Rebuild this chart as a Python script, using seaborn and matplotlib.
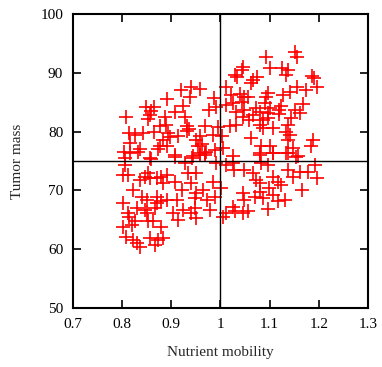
import matplotlib
matplotlib.use("Agg")
import matplotlib.pyplot as plt
import seaborn as sns
import pandas as pd

# Nutrient mobility (x) and tumor mass (y) per sample
mobility = [
    1.093, 1.151, 1.155, 1.101, 1.126, 1.137, 1.134, 1.045, 1.043, 1.029,
    1.034, 1.066, 1.074, 1.063, 1.186, 1.191, 1.197, 1.011, 1.021, 1.039,
    1.047, 1.043, 1.097, 1.093, 1.127, 1.141, 1.155, 1.174, 1.168, 1.151,
    1.124, 1.120, 1.100, 1.097, 1.097, 1.073, 1.066, 1.049, 1.032, 1.026,
    1.012, 0.992, 0.976, 0.986, 0.941, 0.959, 0.919, 0.938, 0.892, 0.923,
    0.907, 0.865, 0.849, 0.857, 0.853, 0.808, 0.887, 0.928, 0.931, 0.936,
    0.914, 0.894, 0.889, 0.877, 0.865, 0.842, 0.826, 0.815, 0.816, 0.836,
    0.804, 0.877, 0.884, 0.891, 0.874, 0.859, 0.907, 0.950, 0.959, 0.968,
    0.955, 0.958, 0.968, 0.985, 0.995, 1.004, 0.989, 1.005, 1.019, 1.032,
    1.046, 1.059, 1.080, 1.086, 1.107, 1.063, 1.083, 1.100, 1.107, 1.080,
    1.134, 1.141, 1.137, 1.144, 1.147, 1.134, 1.157, 1.188, 1.184, 1.026,
    0.945, 0.858, 1.090, 1.056, 1.080, 1.086, 1.120, 1.161, 1.137, 0.962,
    0.971, 0.932, 0.897, 0.816,
    0.806, 0.806, 0.833, 0.857, 0.907, 0.927, 0.943, 0.958, 0.968, 0.992,
    1.012, 1.026, 1.028, 1.049, 1.066, 1.080, 1.083, 1.097, 1.107, 1.137,
    1.154, 1.137, 1.161, 1.178, 1.192, 1.197, 1.166, 1.073, 1.080, 1.080,
    1.099, 1.117, 1.107, 1.132, 1.117, 1.097, 1.046, 1.049, 1.056, 1.045,
    1.026, 1.029, 1.005, 1.002, 0.985, 0.989, 0.972, 0.978, 0.965, 0.951,
    0.948, 0.951, 0.948, 0.941, 0.951, 0.934, 0.921, 0.911, 0.924, 0.914,
    0.904, 0.891, 0.880, 0.870, 0.870, 0.867, 0.891, 0.880, 0.870, 0.857,
    0.847, 0.836, 0.853, 0.840, 0.850, 0.847, 0.822, 0.812, 0.801, 0.801,
    0.812, 0.815, 0.830, 0.850, 0.853, 0.826, 0.801, 0.820, 0.880, 0.863,
    0.808, 0.822, 0.830, 0.836, 0.857, 0.867, 0.884, 0.874,
    0.907, 0.884, 0.941, 1.012, 1.087, 1.070, 1.147, 1.107, 1.124,
]
mass = [
    92.7, 93.6, 92.6, 90.8, 90.8, 90.5, 89.6, 91.0, 90.4, 89.6,
    89.3, 88.8, 89.2, 88.3, 89.5, 89.1, 87.6, 87.5, 86.2, 86.4,
    85.8, 85.1, 86.6, 85.8, 86.2, 86.8, 87.5, 87.1, 84.7, 83.7,
    84.4, 83.7, 84.0, 83.1, 82.3, 84.0, 82.8, 83.7, 83.4, 84.8,
    84.5, 84.2, 83.7, 85.7, 87.6, 87.2, 87.0, 85.9, 85.5, 84.4,
    83.4, 84.1, 84.1, 82.8, 82.1, 82.4, 82.5, 82.5, 80.9, 80.4,
    79.3, 79.7, 81.1, 80.9, 80.0, 79.7, 79.4, 79.7, 78.0, 77.0,
    76.6, 77.5, 78.6, 77.5, 77.0, 75.3, 76.0, 78.6, 79.3, 80.9,
    77.5, 76.3, 76.0, 79.4, 80.7, 79.3, 76.8, 77.2, 81.0, 81.1,
    82.5, 82.0, 81.1, 80.6, 80.6, 78.9, 77.5, 77.5, 76.3, 76.3,
    80.0, 79.4, 81.1, 82.3, 77.2, 76.3, 75.8, 78.6, 77.5, 75.8,
    75.8, 83.5, 84.8, 85.9, 83.3, 82.0, 83.0, 83.1, 78.6, 77.8,
    76.6, 80.1, 79.1, 76.3,
    75.5, 74.3, 76.6, 75.5, 75.7, 74.6, 75.5, 76.0, 76.3, 74.6,
    74.3, 74.6, 73.5, 73.5, 72.9, 76.0, 74.6, 74.3, 76.3, 76.3,
    75.7, 73.5, 73.2, 73.2, 74.3, 72.1, 70.1, 71.8, 71.2, 69.8,
    70.4, 71.5, 69.2, 68.4, 68.1, 66.8, 69.5, 68.4, 66.4, 66.1,
    67.2, 66.4, 65.5, 70.4, 71.5, 68.9, 68.4, 66.7, 70.1, 69.5,
    67.0, 65.3, 68.7, 71.2, 72.9, 72.9, 70.1, 68.4, 66.7, 65.0,
    66.1, 68.4, 68.1, 68.9, 67.8, 67.0, 72.6, 72.3, 72.1, 72.1,
    72.3, 71.8, 72.9, 68.9, 68.4, 66.7, 70.1, 72.6, 72.6, 67.8,
    66.1, 65.5, 67.0, 66.1, 64.7, 64.7, 63.8, 64.1, 63.8, 64.7,
    62.1, 61.6, 61.0, 60.4, 61.9, 60.7, 61.9, 61.6,
    71.5, 71.2, 66.1, 66.1, 68.7, 68.9, 72.3, 72.3, 70.9,
]

x_ticks = [0.7, 0.8, 0.9, 1.0, 1.1, 1.2, 1.3]
x_tick_labels = ["0.7", "0.8", "0.9", "1", "1.1", "1.2", "1.3"]
y_ticks = [50, 60, 70, 80, 90, 100]
x_center = 1.0
y_center = 75

df = pd.DataFrame({"Nutrient mobility": mobility, "Tumor mass": mass})

sns.set_style("ticks")
plt.rcParams["font.family"] = ["Liberation Serif", "DejaVu Serif"]

fig = plt.figure(figsize=(3.82, 3.67), dpi=100)
ax = fig.add_axes([0.191, 0.161, 0.772, 0.801])

sns.scatterplot(data=df, x="Nutrient mobility", y="Tumor mass", ax=ax,
                marker="+", s=95, color="#ff0000", linewidth=1.2, legend=False)

ax.axvline(x_center, color="black", lw=1.0, zorder=3)
ax.axhline(y_center, color="black", lw=1.0, zorder=3)

ax.set_xlim(0.7, 1.3)
ax.set_ylim(50, 100)
ax.set_xticks(x_ticks)
ax.set_xticklabels(x_tick_labels)
ax.set_yticks(y_ticks)
ax.tick_params(direction="in", length=5.5, width=1.2, top=True, right=True,
               labelsize=11, colors="black", pad=7)
for sp in ax.spines.values():
    sp.set_linewidth(1.5)
    sp.set_color("black")
ax.set_xlabel("Nutrient mobility", fontsize=11, labelpad=11)
ax.set_ylabel("Tumor mass", fontsize=11, labelpad=12)

fig.savefig("out.png", dpi=100)
